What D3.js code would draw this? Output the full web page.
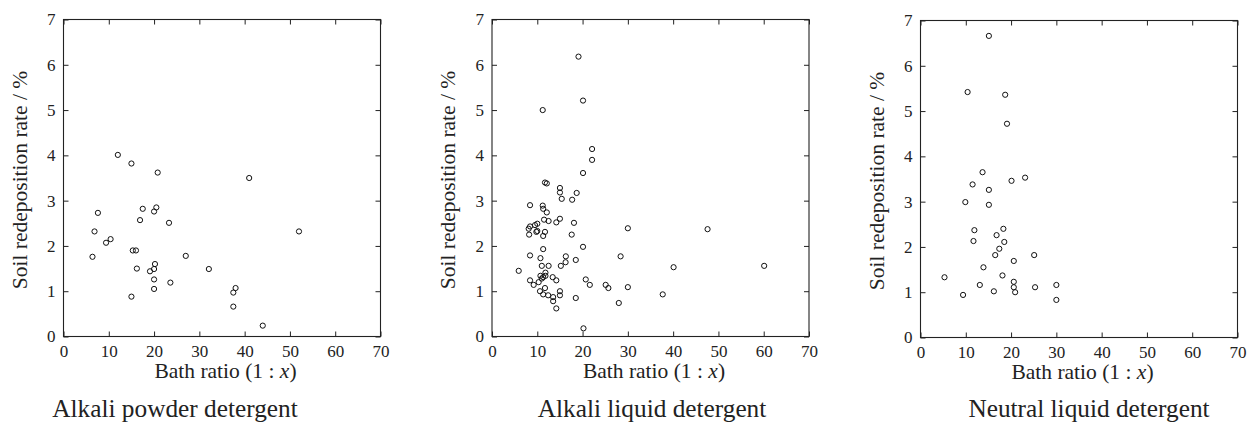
<!DOCTYPE html>
<html>
<head>
<meta charset="utf-8">
<script src="https://cdn.jsdelivr.net/npm/d3@7/dist/d3.min.js"></script>
<style>
  html, body { margin: 0; padding: 0; background: #fff; }
  svg { display: block; }
  text { font-family: "Liberation Serif", "Times New Roman", serif; fill: #222; }
</style>
</head>
<body>
<svg id="chart" width="1251" height="423"></svg>
<script>
// Axis ticks shared by all three panels
const xTicks = [0, 10, 20, 30, 40, 50, 60, 70];
const yTicks = [0, 1, 2, 3, 4, 5, 6, 7];
const xTitle = "Bath ratio (1 : ";
const xTitleVar = "x";
const yTitle = "Soil redeposition rate / %";
const panelTitles = ["Alkali powder detergent", "Alkali liquid detergent", "Neutral liquid detergent"];

// Alkali powder detergent: bath ratio (1:x) and soil redeposition rate (%)
const powderRatio = [12.0, 15.0, 20.8, 41.0, 7.6, 17.5, 20.0, 20.5, 16.9, 23.3, 6.85, 52.0, 9.4, 10.4, 6.4, 15.3, 16.0, 27.0, 16.2, 19.1, 20.0, 20.2, 32.1, 20.0, 23.6, 20.0, 15.0, 37.5, 38.0, 37.5, 44.0];
const powderRate  = [4.01, 3.82, 3.62, 3.50, 2.73, 2.82, 2.76, 2.85, 2.57, 2.51, 2.32, 2.32, 2.07, 2.15, 1.76, 1.90, 1.90, 1.78, 1.50, 1.44, 1.49, 1.60, 1.49, 1.26, 1.19, 1.05, 0.88, 0.97, 1.07, 0.66, 0.24];

// Alkali liquid detergent
const liquidRatio = [19.1, 20.1, 11.2, 22.1, 22.1, 20.1, 11.7, 12.1, 15.0, 15.0, 18.7, 15.4, 17.7, 8.4, 11.2, 11.3, 12.1, 11.5, 12.5, 15.0, 14.2, 18.1, 10.0, 9.5, 8.4, 8.1, 10.0, 9.8, 11.7, 8.2, 11.3, 17.6, 30.0, 47.6, 11.3, 20.1, 8.4, 10.7, 16.3, 16.25, 18.5, 28.4, 11.0, 12.5, 15.2, 40.1, 60.1, 5.9, 11.8, 10.7, 11.8, 11.3, 11.0, 13.4, 14.2, 8.4, 10.3, 9.2, 20.7, 21.6, 25.1, 25.7, 30.0, 11.7, 10.6, 11.3, 12.4, 15.0, 15.0, 13.5, 13.5, 18.5, 14.2, 28.0, 37.7, 20.2];
const liquidRate  = [6.18, 5.21, 5.00, 4.14, 3.90, 3.61, 3.40, 3.38, 3.28, 3.18, 3.17, 3.04, 3.02, 2.90, 2.89, 2.82, 2.74, 2.58, 2.55, 2.60, 2.52, 2.51, 2.49, 2.46, 2.43, 2.38, 2.33, 2.31, 2.31, 2.25, 2.22, 2.25, 2.39, 2.37, 1.93, 1.98, 1.79, 1.73, 1.77, 1.64, 1.69, 1.77, 1.56, 1.56, 1.56, 1.53, 1.56, 1.45, 1.41, 1.34, 1.34, 1.31, 1.28, 1.31, 1.24, 1.24, 1.20, 1.14, 1.26, 1.14, 1.14, 1.07, 1.09, 1.07, 1.00, 0.93, 0.91, 1.00, 0.91, 0.87, 0.78, 0.85, 0.62, 0.74, 0.93, 0.18];

// Neutral liquid detergent
const neutralRatio = [15.1, 10.4, 18.7, 19.1, 13.7, 23.1, 20.1, 11.5, 15.1, 9.9, 15.1, 11.9, 18.3, 16.8, 11.7, 18.5, 17.4, 16.5, 25.1, 20.6, 13.9, 5.3, 18.1, 13.1, 20.6, 20.6, 25.3, 30.0, 16.2, 20.9, 9.4, 30.0];
const neutralRate  = [6.66, 5.42, 5.36, 4.72, 3.65, 3.53, 3.46, 3.38, 3.26, 2.99, 2.93, 2.37, 2.40, 2.26, 2.13, 2.11, 1.96, 1.82, 1.82, 1.69, 1.55, 1.33, 1.37, 1.16, 1.23, 1.11, 1.11, 1.16, 1.02, 1.00, 0.94, 0.83];

const panelData = [
  d3.zip(powderRatio, powderRate),
  d3.zip(liquidRatio, liquidRate),
  d3.zip(neutralRatio, neutralRate)
];

// Frame placement of each panel and the centre of its caption
const frames = [
  { left: 63.5, top: 19.5, caption: 175 },
  { left: 492, top: 19.5, caption: 652 },
  { left: 920.5, top: 20.5, caption: 1089 }
];
const W = 317, H = 317, tickLen = 5;
const ink = "#222";
const serif = '"Liberation Serif", "Times New Roman", serif';

const svg = d3.select("#chart");

frames.forEach((f, i) => {
  const x = d3.scaleLinear().domain([0, 70]).range([0, W]);
  const y = d3.scaleLinear().domain([0, 7]).range([H, 0]);
  const g = svg.append("g").attr("transform", `translate(${f.left},${f.top})`);
  const fmt = d3.format("d");

  // Inward ticks on all four sides
  const axes = [
    { ax: d3.axisBottom(x).tickValues(xTicks).tickFormat(fmt).tickSize(-tickLen).tickPadding(8), t: `translate(0,${H})`, labels: true },
    { ax: d3.axisTop(x).tickValues(xTicks).tickSize(-tickLen), t: "translate(0,0)", labels: false },
    { ax: d3.axisLeft(y).tickValues(yTicks).tickFormat(fmt).tickSize(-tickLen).tickPadding(8), t: "translate(0,0)", labels: true },
    { ax: d3.axisRight(y).tickValues(yTicks).tickSize(-tickLen), t: `translate(${W},0)`, labels: false }
  ];
  axes.forEach(a => {
    const ag = g.append("g").attr("transform", a.t).call(a.ax)
      .attr("font-family", serif)
      .attr("font-size", 17);
    ag.select(".domain").remove();
    ag.selectAll(".tick line").attr("stroke", ink).attr("stroke-width", 1);
    if (a.labels) {
      ag.selectAll(".tick text")
        .attr("fill", ink)
        .style("font-family", serif)
        .style("font-size", "17px");
    } else {
      ag.selectAll(".tick text").remove();
    }
  });

  // Plot frame
  g.append("rect")
    .attr("x", 0).attr("y", 0).attr("width", W).attr("height", H)
    .attr("fill", "none").attr("stroke", ink).attr("stroke-width", 1.1);

  // Points
  g.append("g").selectAll("circle")
    .data(panelData[i])
    .join("circle")
    .attr("cx", d => x(d[0]))
    .attr("cy", d => y(d[1]))
    .attr("r", 2.6)
    .attr("fill", "none")
    .attr("stroke", "#111")
    .attr("stroke-width", 1);

  // X-axis title with italic variable
  const xt = g.append("text")
    .attr("x", W / 2 + 3.5)
    .attr("y", H + 41)
    .attr("text-anchor", "middle")
    .style("font-size", "21.5px");
  xt.append("tspan").text(xTitle);
  xt.append("tspan").style("font-style", "italic").text(xTitleVar);
  xt.append("tspan").text(")");

  // Y-axis title
  g.append("text")
    .attr("transform", `translate(${-37},${H / 2 + 2}) rotate(-90)`)
    .attr("text-anchor", "middle")
    .style("font-size", "21.5px")
    .text(yTitle);

  // Panel caption
  svg.append("text")
    .attr("x", f.caption)
    .attr("y", 417)
    .attr("text-anchor", "middle")
    .style("font-size", "25.3px")
    .text(panelTitles[i]);
});
</script>
</body>
</html>
